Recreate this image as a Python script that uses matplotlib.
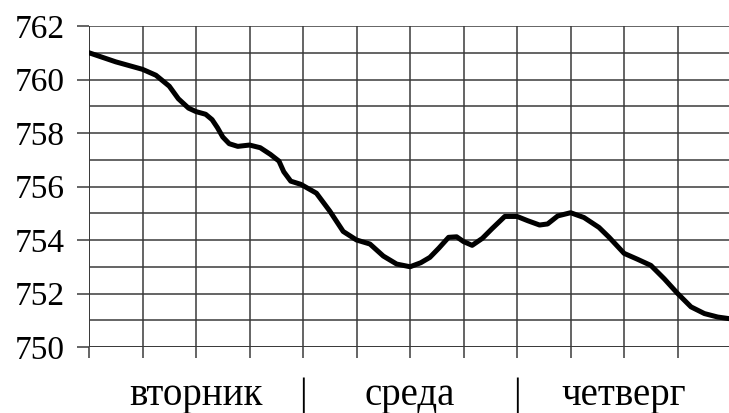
import matplotlib.pyplot as plt
from matplotlib.transforms import blended_transform_factory

# pressure readings (x in grid units, 4 units per day)
hours = [0, 0.5, 1, 1.25, 1.5, 1.67, 1.86, 2, 2.18, 2.3, 2.4, 2.5, 2.62,
         2.78, 3, 3.2, 3.39, 3.55, 3.64, 3.77, 3.96, 4.25, 4.5, 4.75, 5,
         5.25, 5.5, 5.75, 6, 6.2, 6.37, 6.54, 6.72, 6.87, 7, 7.16, 7.35,
         7.53, 7.77, 8, 8.2, 8.42, 8.57, 8.76, 9, 9.25, 9.53, 9.72, 10,
         10.25, 10.5, 10.75, 11, 11.25, 11.5, 11.75, 12]
pressure = [761.0, 760.66, 760.38, 760.16, 759.75, 759.28, 758.93, 758.8,
            758.7, 758.5, 758.2, 757.85, 757.6, 757.5, 757.55, 757.45,
            757.2, 756.95, 756.55, 756.2, 756.08, 755.75, 755.08, 754.32,
            754.0, 753.85, 753.4, 753.1, 753.0, 753.15, 753.35, 753.7,
            754.1, 754.12, 753.94, 753.8, 754.06, 754.42, 754.88, 754.88,
            754.72, 754.56, 754.6, 754.9, 755.02, 754.84, 754.47, 754.1,
            753.5, 753.28, 753.05, 752.55, 752.0, 751.5, 751.25, 751.12,
            751.05]
day_labels = ['вторник', '|', 'среда', '|', 'четверг']
day_pos = [2, 4, 6, 8, 10]

plt.rcParams['font.family'] = ['Liberation Serif', 'DejaVu Serif']
grid_color = '#3a3a3a'

fig = plt.figure(figsize=(7.29, 4.13), dpi=100)
ax = fig.add_axes([89 / 729, 66 / 413, 640 / 729, 321 / 413])

ax.plot(hours, pressure, color='black', lw=3.6, solid_joinstyle='round',
        solid_capstyle='round', zorder=3)

ax.set_xlim(0, 11.96)
ax.set_ylim(750, 762)
ax.set_xticks(range(0, 12))
ax.set_yticks(range(750, 763, 2))
ax.set_yticks(range(751, 762, 2), minor=True)
ax.tick_params(axis='x', direction='out', length=8, width=1.1,
               color=grid_color, labelbottom=False)
ax.tick_params(axis='y', which='major', direction='out', length=8.6,
               width=1.1, color=grid_color, labelsize=24, pad=9)
ax.tick_params(axis='y', which='minor', length=0)
ax.grid(True, which='both', color=grid_color, lw=1.1)
ax.set_axisbelow(True)
for s in ax.spines.values():
    s.set_visible(False)
ax.axvline(0, color=grid_color, lw=1.4, zorder=2)
ax.axhline(750, color=grid_color, lw=1.4, zorder=2)

# day names under the axis
trans = blended_transform_factory(ax.transData, ax.transAxes)
for lab, x in zip(day_labels, day_pos):
    ax.text(x, -0.181, lab, transform=trans, ha='center', va='baseline',
            fontsize=28)

plt.savefig('out.png', dpi=100)
